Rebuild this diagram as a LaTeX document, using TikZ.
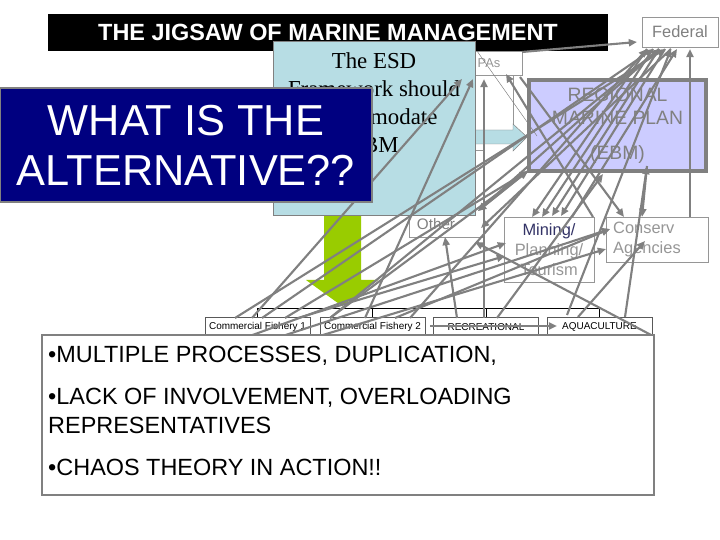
\documentclass[tikz,border=0pt]{standalone}
\usepackage{fontspec}
\setmainfont{Liberation Sans}
\newfontfamily\esdfont{Liberation Serif}
\usetikzlibrary{arrows.meta}
\definecolor{linegray}{RGB}{128,128,128}
\definecolor{boxgray}{RGB}{150,150,150}
\definecolor{paletext}{RGB}{150,150,150}
\definecolor{esdfill}{RGB}{183,221,228}
\definecolor{regfill}{RGB}{204,204,255}
\definecolor{altnavy}{RGB}{0,0,128}
\definecolor{arrowgreen}{RGB}{153,204,0}
\definecolor{minedark}{RGB}{51,51,102}
\begin{document}
\begin{tikzpicture}[x=0.03cm, y=-0.03cm,
	ibox/.style={draw=boxgray, line width=0.6pt, fill=white, inner sep=0pt},
	cfbox/.style={ibox, draw=black!65, minimum width=3.15cm, minimum height=0.6cm,
		font=\fontsize{8.5}{10}\selectfont},
	link/.style={draw=linegray, line width=1.8pt, -{Triangle[length=7pt,width=6pt]}}]
	\useasboundingbox (0,0) rectangle (720,540);
	\fill[white] (0,0) rectangle (720,540);

	% title bar
	\node[fill=black, inner sep=0pt, minimum width=16.8cm, minimum height=1.11cm, text=white,
		font=\fontsize{20}{24}\selectfont\bfseries] (title) at (328,32.5) {THE JIGSAW OF MARINE MANAGEMENT};

	% agency boxes
	\node[ibox, minimum width=2.28cm, minimum height=0.9cm, text=linegray,
		font=\fontsize{14}{17}\selectfont] (fed) at (680,32) {Federal};
	\node[ibox, minimum width=1.98cm, minimum height=0.72cm, text=paletext,
		font=\fontsize{11}{13}\selectfont] (pas) at (489,63) {PAs};
	\node[ibox, minimum width=1.71cm, minimum height=1.65cm] (pbox) at (484.5,102.5) {};
	\node[ibox, minimum width=2.25cm, minimum height=2.61cm] (other) at (446.5,193.5) {};
	\node[text=linegray, font=\fontsize{13}{15}\selectfont] (othertxt) at (436,224) {Other};
	\node[ibox, minimum width=2.7cm, minimum height=1.95cm, text=paletext, align=center,
		font=\fontsize{14}{17}\selectfont] (mine) at (549,249.5)
		{\textcolor{minedark}{Mining/}\\Planning/\\Tourism};
	\node[ibox, minimum width=3.06cm, minimum height=1.35cm] (cons) at (657,239.5) {};
	\node[anchor=west, inner sep=0pt, text=paletext, align=left,
		font=\fontsize{14}{17}\selectfont] (constxt) at (613,239.5) {Conserv\\Agencies};
	\node[draw=linegray, line width=3.4pt, fill=regfill, minimum width=5.31cm, minimum height=2.73cm,
		text=linegray, align=center, font=\fontsize{16.5}{19.6}\selectfont] (reg) at (617.5,125.5)
		{REGIONAL\\MARINE PLAN\\[10pt](EBM)};

	% sector boxes
	\node[cfbox] (cf1) at (257.5,327) {Commercial Fishery 1};
	\node[cfbox] (cf2) at (372.5,327) {Commercial Fishery 2};
	\node[cfbox] (rec) at (486,327) {RECREATIONAL};
	\node[cfbox] (aqua) at (599.5,327) {AQUACULTURE};
	\draw[black, line width=0.6pt] (cf1.north) -- ++(0,-8) -| (aqua.north);
	\draw[black, line width=0.6pt] (cf2.north) -- ++(0,-8);
	\draw[black, line width=0.6pt] (rec.north) -- ++(0,-8);

	% block arrows
	\filldraw[fill=esdfill, draw=linegray, line width=0.4pt]
		(470,130) -- (513,130) -- (513,124) -- (527,137) -- (513,151) -- (513,144) -- (470,144) -- cycle;
	\fill[arrowgreen] (324,210) -- (361,210) -- (361,280) -- (378,280) -- (342,306)
		-- (306,280) -- (324,280) -- cycle;

	% ESD box
	\node[fill=esdfill, draw=linegray, line width=0.6pt, minimum width=6.06cm, minimum height=5.22cm]
		(esd) at (374,128) {};
	\node[align=center, font=\esdfont\fontsize{19.5}{24}\selectfont] (esdtxt) at (374,102.5)
		{The ESD\\Framework should\\accommodate\\EBM};

	% connector ends
	\foreach \name/\u/\v in {tp/522/52, fl/637/42, fa/647/49, fb/653/49, fc/659/49, fd/665/49,
		fe/671/49, ff/677/49, fg/690/49, ea/462/79, eb/473/79, ec/484/79, pa/506/74, pb/520/77,
		ma/532/217, mb/542/217, mc/552/216, md/561/216, me/593/217, mf/572/217, ml/506/243,
		mm/505/256, ca/624/217, cb/642/217, cc/690/217, cd/610/229, ce/606/249, cf/645/241,
		oa/445/237, ra/528/171, rb/647/166, rc/603/174, xa/478/211, xb/475/242, xc/481/228,
		c1a/235/318, c1b/252/318, c1c/262/318, c1d/285/318, c1e/298/318, c2a/330/318,
		c2b/365/318, c2c/395/318, c2d/410/318, r1/457/318, r2/484/318, r3/497/318,
		q1/567/315, q2/578/317, q3/625/317, la/225/345, lb/255/345, lc/290/345,
		ld/430/326, le/557/326, lf/653/336, tn1/477/51, tn2/537/136}
	\coordinate (\name) at (\u,\v);

	\draw[linegray, line width=0.4pt] (tn1) -- (tn2);
	\foreach \from/\to in {
		tp/fl, cc/fg, c1b/ea, c2b/eb, r2/ec, me/pa, pb/ca,
		fa/ma, fb/mb, fc/mc, fd/md,
		c1c/fb, c1a/fd, q1/fe, mf/ff, c2a/fc, c2d/fa,
		fc/xa, fe/xc, r1/oa, lf/xb, ra/xa,
		la/ml, lb/cd, lc/ce, c1e/mm, c2c/cd,
		c1d/ra, c2a/ra, ld/le, q2/cf, q3/rb, rb/cb, r3/rc}
	\draw[link] (\from) -- (\to);

	% overlay question
	\node[fill=altnavy, draw=linegray, line width=1pt, minimum width=11.16cm, minimum height=3.42cm,
		text=white, align=center, font=\fontsize{37}{42.7}\selectfont] (alt) at (186,145)
		{WHAT IS THE\\ALTERNATIVE??};

	% summary box
	\node[fill=white, draw=linegray, line width=1.7pt, minimum width=18.36cm, minimum height=4.8cm]
		(bot) at (348,415) {};
	\node[anchor=north west, inner sep=0pt, align=left, font=\fontsize{20}{24.8}\selectfont]
		(bottxt) at (48,346)
		{•MULTIPLE PROCESSES, DUPLICATION,\\[11pt]
		 •LACK OF INVOLVEMENT, OVERLOADING\\REPRESENTATIVES\\[11pt]
		 •CHAOS THEORY IN ACTION!!};
\end{tikzpicture}
\end{document}
